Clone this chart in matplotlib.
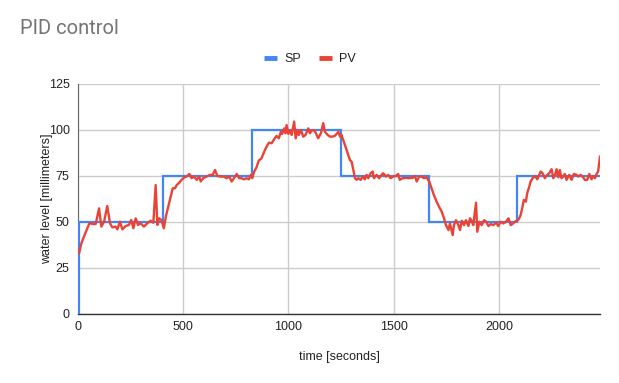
import matplotlib
matplotlib.use("Agg")
import matplotlib.pyplot as plt
from matplotlib.lines import Line2D

# ---------------- data ----------------
sp_time = [0, 5, 405, 827, 1248, 1666, 2087, 2480]
sp_value = [0, 50, 75, 100, 75, 50, 75, 75]

pv_time = [
    5, 16, 28, 41, 55, 68, 84, 100, 111, 124, 139, 152, 163, 179, 187, 199, 211,
    226, 242, 253, 263, 274, 285, 298, 313, 329, 345, 358, 369, 377, 385, 396,
    408, 418, 429, 440, 450, 461, 469, 481, 492, 503, 516, 529, 540, 551, 564,
    576, 583, 595, 611, 627, 640, 651, 662, 678, 693, 706, 719, 730, 741, 754,
    766, 777, 788, 801, 812, 821, 828, 837, 848, 859, 872, 885, 896, 907, 920,
    932, 943, 954, 964, 970, 980, 986, 991, 999, 1007, 1015, 1027, 1034, 1043,
    1049, 1059, 1070, 1081, 1094, 1102, 1110, 1120, 1129, 1141, 1154, 1165,
    1173, 1186, 1197, 1208, 1220, 1237, 1245, 1252, 1260, 1268, 1276, 1284,
    1292, 1300, 1308, 1316, 1324, 1332, 1343, 1352, 1363, 1371, 1379, 1390,
    1400, 1406, 1419, 1431, 1442, 1450, 1463, 1474, 1485, 1498, 1510, 1521,
    1529, 1542, 1558, 1574, 1590, 1601, 1609, 1621, 1632, 1643, 1656, 1669,
    1680, 1691, 1704, 1717, 1728, 1739, 1748, 1760, 1767, 1780, 1786, 1796,
    1807, 1815, 1823, 1834, 1843, 1855, 1862, 1870, 1878, 1891, 1897, 1907,
    1918, 1929, 1940, 1950, 1961, 1973, 1986, 1997, 2008, 2021, 2033, 2045,
    2056, 2065, 2076, 2092, 2103, 2112, 2118, 2128, 2134, 2144, 2150, 2160,
    2171, 2182, 2191, 2198, 2207, 2218, 2229, 2239, 2250, 2258, 2266, 2274,
    2282, 2289, 2297, 2305, 2313, 2321, 2334, 2345, 2356, 2369, 2377, 2388,
    2400, 2408, 2419, 2429, 2440, 2448, 2456, 2464, 2471, 2480,
]
pv_value = [
    33, 38.4, 42, 45.7, 49.5, 48.9, 48.9, 57.4, 47.5, 50.2, 58.7, 49.3, 47.1,
    47.5, 46, 50.2, 46, 47.8, 48.4, 51.1, 46.6, 52, 48.4, 49.3, 47.5, 49.3,
    50.7, 49.6, 70.1, 48.4, 52, 51.1,
    46.6, 53.3, 58.4, 63.4, 68.3, 68.3, 70.1, 71.4, 72.9, 74.1, 74.7, 76.1,
    73.8, 74.7, 72.9, 74.7, 72, 73.8, 74.7, 75.6, 75.6, 78.3, 75, 74.7, 74.7,
    73.8, 74.7, 72, 73.8, 76.1, 73.8, 73.8, 73.2, 73.8, 73.2, 75.6, 73.8,
    77.4, 79.7, 83.4, 84.6, 88.3, 91, 93.1, 92.8, 95, 96.8, 95.5, 99.1, 97.9,
    100.9, 98.2, 102.7, 97.9, 99.7, 97.3, 104.6, 95.5, 100, 97.3, 100, 96.4,
    97.3, 100.9, 98.2, 99.7, 100, 98.6, 95.5, 98.2, 103.7, 99.1, 97.3, 96.4,
    96.4, 96.8, 99, 96.4, 97.3, 94.6, 91.9, 89.2, 86.4, 83.7, 82.8, 78.3,
    73.8, 72.9, 73.8, 72.9, 74.7, 73.2, 75.6, 73.8, 76.5, 77.4, 73.8, 75.6,
    73.8, 75.6, 76.5, 74.7, 75.6, 73.8, 74.7, 75, 76.1, 72.9, 73.8, 74,
    73.8, 74, 75, 72, 74.7, 74.7, 73.8, 74.2, 71.9, 68.3, 64.6, 61, 57.9,
    55.6, 52, 48.3, 45.6, 49.2, 42.9, 48.3, 51, 48.3, 45.6, 50.7, 48.3, 51,
    47.8, 52, 50.7, 48.3, 60.5, 44.7, 50.1, 48.3, 51, 50.1, 47.8, 48.9,
    48.3, 49.6, 47.8, 50.1, 49.2, 50.1, 52, 48.3, 49, 50.2, 51.1, 53.8, 58.4,
    62, 61.1, 65.6, 69.2, 72, 73.8, 75, 73.2, 75.6, 77.4, 76.5, 73.8, 75.6,
    76.5, 78.7, 73.8, 75.6, 78.7, 74.3, 78.3, 73.8, 74.7, 76.1, 72.9, 75.6,
    72.9, 76.1, 75.6, 74.7, 75.6, 74.3, 72.9, 72.9, 76.1, 73.2, 75, 73.8,
    76.1, 77.4, 85.5,
]

x_ticks = [0, 500, 1000, 1500, 2000]
y_ticks = [0, 25, 50, 75, 100, 125]

title = "PID control"
x_label = "time [seconds]"
y_label = "water level [millimeters]"
series_names = ["SP", "PV"]

# ---------------- style ----------------
SP_COLOR = "#4285F4"
PV_COLOR = "#EA4335"
FONT = ["Liberation Sans", "DejaVu Sans"]

fig = plt.figure(figsize=(6.19, 3.83), dpi=100)
ax = fig.add_axes([78 / 619, 1 - 314 / 383, (600 - 78) / 619, (314 - 84) / 383])

ax.step(sp_time, sp_value, where="post", color=SP_COLOR, lw=1.6, zorder=3,
        solid_joinstyle="miter")
ax.plot(pv_time, pv_value, color=PV_COLOR, lw=1.7, zorder=4,
        solid_joinstyle="round")

ax.set_xlim(0, 2480)
ax.set_ylim(0, 125)
ax.set_xticks(x_ticks)
ax.set_yticks(y_ticks)
ax.grid(True, color="#cccccc", lw=1.0, zorder=0)
ax.set_axisbelow(True)

for s in ["top", "right"]:
    ax.spines[s].set_visible(False)
ax.spines["bottom"].set_color("#333333")
ax.spines["bottom"].set_linewidth(1.0)
ax.spines["left"].set_color("#666666")
ax.spines["left"].set_linewidth(0.8)

ax.tick_params(axis="both", length=0, labelsize=9, labelcolor="#222222")
ax.tick_params(axis="x", pad=5)
ax.tick_params(axis="y", pad=6)
for lab in ax.get_xticklabels() + ax.get_yticklabels():
    lab.set_family(FONT)

ax.set_xlabel(x_label, fontsize=9, family=FONT, color="#222222", labelpad=13)
ax.set_ylabel(y_label, fontsize=9, family=FONT, color="#222222")
ax.yaxis.set_label_coords((53 - 78) / 522, 0.5)

fig.text(20 / 619, 1 - 29 / 383, title, fontsize=14.5, color="#757575",
         family=["Roboto", "DejaVu Sans"], ha="left", va="center")

handles = [Line2D([], [], color=SP_COLOR, lw=3.5, solid_capstyle="butt"),
           Line2D([], [], color=PV_COLOR, lw=3.5, solid_capstyle="butt")]
leg = fig.legend(handles, series_names, loc="center",
                 bbox_to_anchor=(310 / 619, 1 - 59 / 383), ncol=2,
                 frameon=False, handlelength=1.0, handletextpad=0.6,
                 columnspacing=1.45, prop={"family": FONT, "size": 9})
for t in leg.get_texts():
    t.set_color("#222222")

fig.savefig("out.png", dpi=100)
